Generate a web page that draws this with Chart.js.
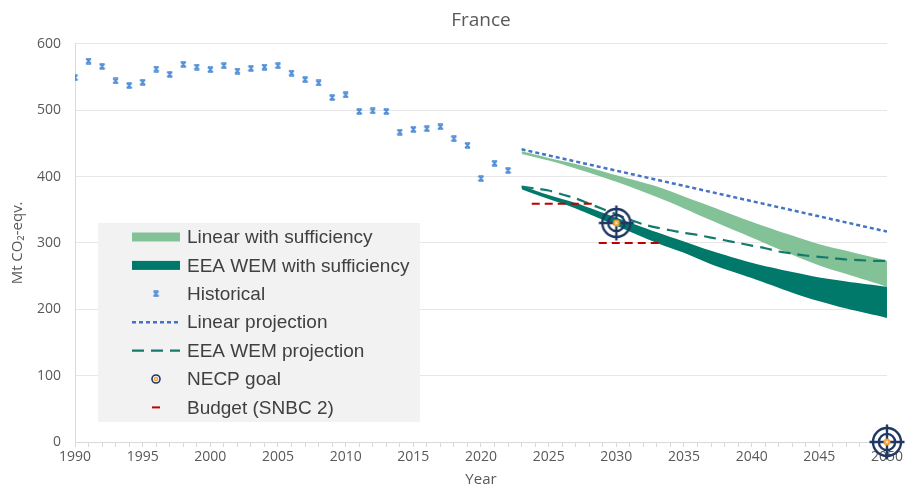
<!DOCTYPE html>
<html>
<head>
<meta charset="utf-8">
<script src="https://cdn.jsdelivr.net/npm/chart.js@4.4.1/dist/chart.umd.min.js"></script>
<style>
  html, body { margin: 0; padding: 0; background: #fff; }
</style>
</head>
<body>
<canvas id="myChart" width="905" height="491"></canvas>
<script>
// Historical emissions (Mt CO2-eqv.)
const histYears = [1990,1991,1992,1993,1994,1995,1996,1997,1998,1999,2000,2001,2002,2003,2004,2005,2006,2007,2008,2009,2010,2011,2012,2013,2014,2015,2016,2017,2018,2019,2020,2021,2022];
const histValues = [549,574,566,544,537,542,562,554,569,565,561,567,559,563,565,567,556,546,541,519,523,498,499,498,467,471,472,475,457,447,397,420,409];

// Linear projection
const linYears = [2023, 2050];
const linValues = [441, 317];

// EEA WEM projection
const wemYears = [2023,2024,2025,2026,2027,2028,2029,2030,2031,2032,2033,2034,2035,2036,2037,2038,2039,2040,2041,2042,2043,2044,2045,2046,2047,2048,2049,2050];
const wemValues = [385,382,379,373,367,359,351,343,335,328,323,319,315,312,308,304,300,296,292,287,284,281,279,277,275,274,273,273];

// Sufficiency bands
const bandYears = [2023,2025,2027,2030,2033,2035,2037,2040,2043,2045,2047,2050];
const linSuffHigh = [438,428,419,402,385,370,355,332,311,298,288,273];
const linSuffLow  = [434,424,412,392,369,352,334,308,282,266,253,234];
const wemSuffHigh = [386,372,360,338,316,302,288,270,256,248,242,234];
const wemSuffLow  = [381,366,352,326,300,285,268,247,225,212,201,187];

// NECP goal
const goalYears = [2030, 2050];
const goalValues = [330, 0];

// Budget (SNBC 2)
const budgetStart = [2023.75, 2028.7];
const budgetEnd = [2028.4, 2033.3];
const budgetValues = [359, 300];

const GREY = '#595959';
const LIGHT = '#83C297';
const DARK = '#00796B';

function makeTarget(r, cross) {
  const s = Math.ceil(r * 2.8);
  const c = document.createElement('canvas');
  c.width = c.height = s;
  const g = c.getContext('2d');
  const m = s / 2;
  g.strokeStyle = '#1f3864';
  g.lineWidth = Math.max(1.6, r * 0.17);
  g.beginPath(); g.arc(m, m, r, 0, Math.PI * 2); g.stroke();
  if (cross) {
    g.beginPath(); g.arc(m, m, r * 0.58, 0, Math.PI * 2); g.stroke();
    g.beginPath();
    g.moveTo(m - r * 1.25, m); g.lineTo(m + r * 1.25, m);
    g.moveTo(m, m - r * 1.25); g.lineTo(m, m + r * 1.25);
    g.stroke();
  }
  g.fillStyle = '#f5a030';
  g.beginPath(); g.arc(m, m, cross ? r * 0.25 : r * 0.55, 0, Math.PI * 2); g.fill();
  g.fillStyle = '#fde2b8';
  g.beginPath(); g.arc(m, m, cross ? r * 0.1 : r * 0.25, 0, Math.PI * 2); g.fill();
  return c;
}

function makeHist(sz) {
  const c = document.createElement('canvas');
  c.width = c.height = sz;
  const g = c.getContext('2d');
  g.strokeStyle = '#4a8ad4';
  g.lineWidth = 1.6;
  g.beginPath();
  g.moveTo(1, 1); g.lineTo(sz - 1, sz - 1);
  g.moveTo(sz - 1, 1); g.lineTo(1, sz - 1);
  g.moveTo(1, 1); g.lineTo(sz - 1, 1);
  g.moveTo(1, sz - 1); g.lineTo(sz - 1, sz - 1);
  g.stroke();
  return c;
}

const targetBig = makeTarget(14, true);
const targetSmall = makeTarget(4, false);
const histIcon = makeHist(7);

const xy = (xs, ys) => xs.map((x, i) => ({ x: x, y: ys[i] }));

const budgetData = [];
budgetValues.forEach((v, i) => {
  budgetData.push({ x: budgetStart[i], y: v });
  budgetData.push({ x: budgetEnd[i], y: v });
  budgetData.push({ x: budgetEnd[i], y: null });
});

// legend drawn inside the plot, in a grey box
const boxLegend = {
  id: 'boxLegend',
  afterDraw(chart) {
    const g = chart.ctx;
    g.save();
    g.fillStyle = '#f2f2f2';
    g.fillRect(98, 223, 322, 199);
    g.font = "19px 'Liberation Sans'";
    g.textBaseline = 'middle';
    let y = 237;
    chart.data.datasets.forEach(ds => {
      if (!ds.legendKind) return;
      const x0 = 132, x1 = 180, cx = 156;
      if (ds.legendKind === 'band') {
        g.fillStyle = ds.backgroundColor;
        g.fillRect(x0, y - 4.5, x1 - x0, 9);
      } else if (ds.legendKind === 'icon') {
        const im = ds.legendIcon;
        g.drawImage(im, cx - im.width / 2, y - im.height / 2);
      } else if (ds.legendKind === 'line') {
        g.strokeStyle = ds.borderColor;
        g.lineWidth = ds.borderWidth;
        g.setLineDash(ds.borderDash || []);
        g.beginPath(); g.moveTo(x0, y); g.lineTo(x1, y); g.stroke();
        g.setLineDash([]);
      } else if (ds.legendKind === 'dash') {
        g.strokeStyle = ds.borderColor;
        g.lineWidth = 2;
        g.beginPath(); g.moveTo(152, y); g.lineTo(160, y); g.stroke();
      }
      g.fillStyle = '#404040';
      g.fillText(ds.label, 187, y + 1);
      y += 28.4;
    });
    g.restore();
  }
};

const ctx = document.getElementById('myChart').getContext('2d');

const myChart = new Chart(ctx, {
  type: 'line',
  data: {
    datasets: [
      {
        label: 'Linear with sufficiency',
        data: xy(bandYears, linSuffHigh),
        legendKind: 'band',
        backgroundColor: LIGHT,
        borderWidth: 0,
        pointRadius: 0,
        fill: '+1',
        tension: 0.3,
        order: 8
      },
      {
        label: 'lin-low',
        data: xy(bandYears, linSuffLow),
        borderWidth: 0,
        pointRadius: 0,
        fill: false,
        tension: 0.3,
        order: 7
      },
      {
        label: 'EEA WEM with sufficiency',
        data: xy(bandYears, wemSuffHigh),
        legendKind: 'band',
        backgroundColor: DARK,
        borderWidth: 0,
        pointRadius: 0,
        fill: '+1',
        tension: 0.3,
        order: 6
      },
      {
        label: 'wem-low',
        data: xy(bandYears, wemSuffLow),
        borderWidth: 0,
        pointRadius: 0,
        fill: false,
        tension: 0.3,
        order: 5
      },
      {
        label: 'Historical',
        data: xy(histYears, histValues),
        legendKind: 'icon',
        legendIcon: histIcon,
        showLine: false,
        pointStyle: histIcon,
        pointRadius: 4,
        order: 2
      },
      {
        label: 'Linear projection',
        data: xy(linYears, linValues),
        legendKind: 'line',
        borderColor: '#4472c4',
        borderWidth: 2.5,
        borderDash: [4, 3],
        pointRadius: 0,
        fill: false,
        order: 3
      },
      {
        label: 'EEA WEM projection',
        data: xy(wemYears, wemValues),
        legendKind: 'line',
        borderColor: '#157a6e',
        borderWidth: 2.2,
        borderDash: [12, 7],
        pointRadius: 0,
        fill: false,
        tension: 0.3,
        order: 4
      },
      {
        label: 'NECP goal',
        data: xy(goalYears, goalValues),
        legendKind: 'icon',
        legendIcon: targetSmall,
        showLine: false,
        pointStyle: targetBig,
        pointRadius: 15,
        clip: false,
        order: 0
      },
      {
        label: 'Budget (SNBC 2)',
        data: budgetData,
        legendKind: 'dash',
        borderColor: '#c00000',
        borderWidth: 2,
        borderDash: [8, 5],
        pointRadius: 0,
        spanGaps: false,
        fill: false,
        order: 1
      }
    ]
  },
  options: {
    responsive: false,
    animation: false,
    events: [],
    plugins: {
      legend: { display: false },
      tooltip: { enabled: false },
      title: {
        display: true,
        text: 'France',
        fullSize: false,
        color: GREY,
        font: { family: 'Open Sans', size: 19, weight: 'normal' },
        padding: { top: 9, bottom: 12 }
      }
    },
    scales: {
      x: {
        type: 'linear',
        min: 1990,
        max: 2050,
        afterFit: s => { s.height = 49; },
        ticks: {
          stepSize: 1,
          autoSkip: false,
          maxRotation: 0,
          padding: 2,
          color: GREY,
          font: { family: 'Open Sans', size: 14 },
          callback: v => (v % 5 === 0 ? String(v) : '')
        },
        grid: { drawOnChartArea: false, drawTicks: true, tickLength: 5, color: '#d9d9d9' },
        border: { color: '#d9d9d9' },
        title: {
          display: true,
          text: 'Year',
          color: GREY,
          font: { family: 'Open Sans', size: 15 },
          padding: { top: 0, bottom: 2 }
        }
      },
      y: {
        min: 0,
        max: 600,
        afterFit: s => { s.width = 75; },
        ticks: {
          stepSize: 100,
          padding: 14,
          color: GREY,
          font: { family: 'Open Sans', size: 14 }
        },
        grid: { color: '#e6e6e6', drawTicks: false },
        border: { color: '#d9d9d9' },
        title: {
          display: true,
          text: 'Mt CO₂-eqv.',
          color: GREY,
          font: { family: 'Open Sans', size: 15 },
          padding: { top: 9, bottom: 4 }
        }
      }
    }
  },
  plugins: [boxLegend]
});
</script>
</body>
</html>
